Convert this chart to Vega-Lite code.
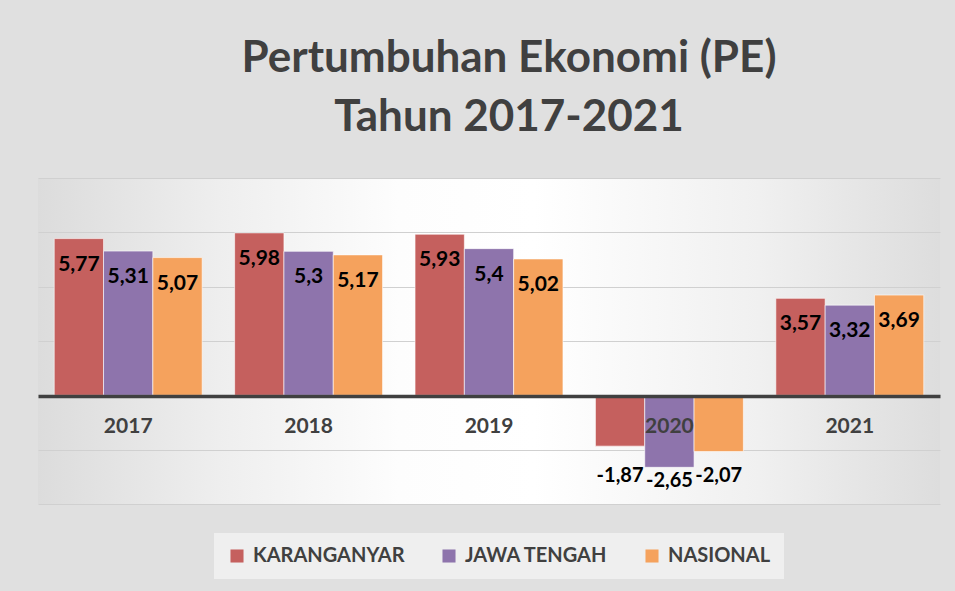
{
  "$schema": "https://vega.github.io/schema/vega-lite/v6.json",
  "width": 902,
  "height": 326,
  "autosize": {"type": "none"},
  "padding": {"left": 38, "top": 178, "right": 15, "bottom": 87},
  "background": "#e0e0e0",
  "title": {
    "text": ["Pertumbuhan Ekonomi (PE)", "Tahun 2017-2021"],
    "font": "Lato",
    "fontSize": 44,
    "fontWeight": "bold",
    "color": "#404040",
    "lineHeight": 59,
    "offset": 38,
    "dx": 20,
    "anchor": "middle"
  },
  "config": {
    "font": "Lato",
    "locale": {
      "number": {"decimal": ",", "thousands": ".", "grouping": [3], "currency": ["", ""], "minus": "-"}
    },
    "view": {
      "stroke": null,
      "fill": {
        "gradient": "linear", "x1": 0, "y1": 0, "x2": 1, "y2": 0,
        "stops": [
          {"offset": 0, "color": "#dcdcdc"},
          {"offset": 0.2, "color": "#eeeeee"},
          {"offset": 0.4, "color": "#fdfdfd"},
          {"offset": 0.55, "color": "#ffffff"},
          {"offset": 0.8, "color": "#f0f0f0"},
          {"offset": 1, "color": "#dddddd"}
        ]
      }
    }
  },
  "data": {
    "values": [
      {"year": "2017", "region": "KARANGANYAR", "value": 5.77},
      {"year": "2017", "region": "JAWA TENGAH", "value": 5.31},
      {"year": "2017", "region": "NASIONAL", "value": 5.07},
      {"year": "2018", "region": "KARANGANYAR", "value": 5.98},
      {"year": "2018", "region": "JAWA TENGAH", "value": 5.3},
      {"year": "2018", "region": "NASIONAL", "value": 5.17},
      {"year": "2019", "region": "KARANGANYAR", "value": 5.93},
      {"year": "2019", "region": "JAWA TENGAH", "value": 5.4},
      {"year": "2019", "region": "NASIONAL", "value": 5.02},
      {"year": "2020", "region": "KARANGANYAR", "value": -1.87},
      {"year": "2020", "region": "JAWA TENGAH", "value": -2.65},
      {"year": "2020", "region": "NASIONAL", "value": -2.07},
      {"year": "2021", "region": "KARANGANYAR", "value": 3.57},
      {"year": "2021", "region": "JAWA TENGAH", "value": 3.32},
      {"year": "2021", "region": "NASIONAL", "value": 3.69}
    ]
  },
  "encoding": {
    "x": {
      "field": "year",
      "type": "nominal",
      "scale": {"paddingInner": 0.18, "paddingOuter": 0.09},
      "axis": {
        "title": null,
        "orient": "bottom",
        "offset": -108,
        "domainColor": "#404040",
        "domainWidth": 3.5,
        "ticks": false,
        "labelFont": "Lato",
        "labelFontSize": 21,
        "labelFontWeight": "bold",
        "labelColor": "#404040",
        "labelPadding": 19,
        "labelAngle": 0,
        "grid": false,
        "zindex": 1
      }
    },
    "xOffset": {
      "field": "region",
      "type": "nominal",
      "sort": ["KARANGANYAR", "JAWA TENGAH", "NASIONAL"],
      "scale": {"paddingInner": 0, "paddingOuter": 0}
    }
  },
  "layer": [
    {
      "mark": {"type": "bar", "stroke": "white", "strokeWidth": 1, "strokeOpacity": 0.6},
      "encoding": {
        "y": {
          "field": "value",
          "type": "quantitative",
          "scale": {"domain": [-4, 8], "nice": false, "zero": true},
          "axis": {
            "title": null,
            "labels": false,
            "ticks": false,
            "domain": false,
            "grid": true,
            "values": [-4, -2, 0, 2, 4, 6, 8],
            "gridColor": "#d0d0d0",
            "gridWidth": 1.2
          }
        },
        "color": {
          "field": "region",
          "type": "nominal",
          "sort": ["KARANGANYAR", "JAWA TENGAH", "NASIONAL"],
          "scale": {
            "domain": ["KARANGANYAR", "JAWA TENGAH", "NASIONAL"],
            "range": ["#c5605e", "#8e74ac", "#f5a25d"]
          },
          "legend": {
            "title": null,
            "orient": "none",
            "legendX": 176,
            "legendY": 355,
            "direction": "horizontal",
            "symbolType": "square",
            "symbolSize": 170,
            "symbolStrokeWidth": 0,
            "labelFont": "Lato",
            "labelFontSize": 20,
            "labelFontWeight": "bold",
            "labelColor": "#404040",
            "labelOffset": 6,
            "fillColor": "#efefef",
            "padding": 13,
            "columnPadding": 34
          }
        }
      }
    },
    {
      "transform": [{"filter": "datum.value > 0"}],
      "mark": {"type": "text", "dy": 26, "fontSize": 21, "fontWeight": "bold", "color": "black", "baseline": "middle", "font": "Lato"},
      "encoding": {
        "y": {"field": "value", "type": "quantitative"},
        "text": {"field": "value", "type": "quantitative", "format": ".3~r"}
      }
    },
    {
      "transform": [{"filter": "datum.value < 0 && datum.region != 'JAWA TENGAH'"}],
      "mark": {"type": "text", "fontSize": 20, "fontWeight": "bold", "color": "black", "baseline": "middle", "font": "Lato"},
      "encoding": {
        "y": {"datum": -2.98},
        "text": {"field": "value", "type": "quantitative", "format": ".3~r"}
      }
    },
    {
      "transform": [{"filter": "datum.value < 0 && datum.region == 'JAWA TENGAH'"}],
      "mark": {"type": "text", "fontSize": 20, "fontWeight": "bold", "color": "black", "baseline": "middle", "font": "Lato"},
      "encoding": {
        "y": {"datum": -3.16},
        "text": {"field": "value", "type": "quantitative", "format": ".3~r"}
      }
    }
  ]
}
